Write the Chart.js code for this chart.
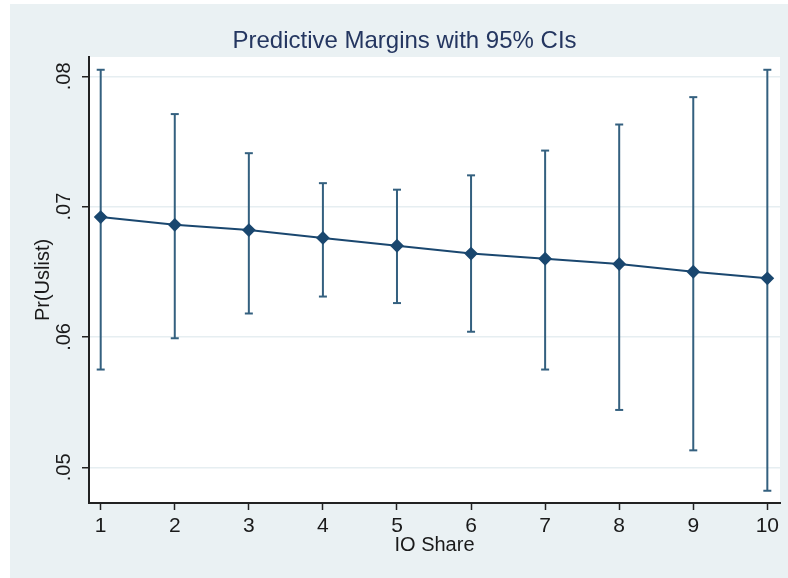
<!DOCTYPE html>
<html>
<head>
<meta charset="utf-8">
<script src="https://cdn.jsdelivr.net/npm/chart.js@4.4.0/dist/chart.umd.min.js"></script>
<style>
    body { margin: 0; background: #ffffff; }
    canvas { display: block; }
</style>
</head>
<body>
<canvas id="canvasMargins" width="788" height="578"></canvas>
<script>
var ioShare = [1, 2, 3, 4, 5, 6, 7, 8, 9, 10];
var margins = [0.0692, 0.0686, 0.0682, 0.0676, 0.0670, 0.0664, 0.0660, 0.0656, 0.0650, 0.0645];
var upperCI = [0.0805, 0.0771, 0.0741, 0.0718, 0.0713, 0.0724, 0.0743, 0.0763, 0.0784, 0.0805];
var lowerCI = [0.0575, 0.0599, 0.0618, 0.0631, 0.0626, 0.0604, 0.0575, 0.0544, 0.0513, 0.0482];
var yTicks = [0.05, 0.06, 0.07, 0.08];
var xTicks = [1, 2, 3, 4, 5, 6, 7, 8, 9, 10];

var navy = '#1a476f';
var spikeColor = '#34607f';
var fontName = '"Liberation Sans", Arial, sans-serif';

function buildPoints(values){
    var points = [];
    for(var i = 0; i < ioShare.length; i++){
        points.push({x: ioShare[i], y: values[i]});
    }
    return points;
}

function buildSpikes(){
    // one segment per x, split with null so the line breaks
    var points = [];
    for(var i = 0; i < ioShare.length; i++){
        points.push({x: ioShare[i], y: lowerCI[i]});
        points.push({x: ioShare[i], y: upperCI[i]});
        points.push({x: ioShare[i], y: null});
    }
    return points;
}

var backgroundPlugin = {
    id: 'stataBackground',
    beforeDraw: function(chart){
        var ctx = chart.ctx;
        var area = chart.chartArea;
        ctx.save();
        ctx.fillStyle = '#ffffff';
        ctx.fillRect(0, 0, chart.width, chart.height);
        ctx.fillStyle = '#eaf1f3';
        ctx.fillRect(10, 4, chart.width - 10, chart.height - 4);
        ctx.fillStyle = '#ffffff';
        ctx.fillRect(area.left, area.top, area.right - area.left, area.bottom - area.top);
        ctx.restore();
    }
};

var config = {
    type: 'line',
    data: {
        datasets: [
            {
                label: 'margins',
                data: buildPoints(margins),
                borderColor: navy,
                backgroundColor: navy,
                borderWidth: 2,
                pointStyle: 'rectRot',
                pointRadius: 5.5,
                tension: 0,
                order: 0
            },
            {
                label: 'ci',
                data: buildSpikes(),
                borderColor: spikeColor,
                borderWidth: 2,
                pointRadius: 0,
                spanGaps: false,
                order: 2
            },
            {
                label: 'caps',
                type: 'scatter',
                data: buildPoints(lowerCI).concat(buildPoints(upperCI)),
                borderColor: spikeColor,
                borderWidth: 2,
                pointStyle: 'line',
                pointRadius: 4,
                order: 1
            }
        ]
    },
    options: {
        responsive: false,
        animation: false,
        layout: {
            padding: {left: 29, right: 8, top: 0, bottom: 0}
        },
        plugins: {
            legend: {display: false},
            tooltip: {enabled: false},
            title: {
                display: true,
                text: 'Predictive Margins with 95% CIs',
                color: '#243660',
                font: {family: fontName, size: 24, weight: 'normal', lineHeight: 1.2},
                padding: {top: 26.6, bottom: 1.6}
            }
        },
        scales: {
            x: {
                type: 'linear',
                min: 0.842,
                max: 10.171,
                afterFit: function(scale){ scale.height = 75; },
                afterBuildTicks: function(scale){
                    scale.ticks = xTicks.map(function(v){ return {value: v}; });
                },
                grid: {
                    drawOnChartArea: false,
                    tickLength: 7,
                    tickColor: '#222222',
                    tickWidth: 1.5
                },
                border: {display: true, color: '#222222', width: 2},
                ticks: {
                    color: '#1a1a1a',
                    padding: 4,
                    font: {family: fontName, size: 21},
                    callback: function(value){ return String(value); }
                },
                title: {
                    display: true,
                    text: 'IO Share',
                    color: '#1a1a1a',
                    font: {family: fontName, size: 20},
                    padding: {top: 0, bottom: 21}
                }
            },
            y: {
                type: 'linear',
                min: 0.04726,
                max: 0.08148,
                afterFit: function(scale){ scale.width = 60; },
                afterBuildTicks: function(scale){
                    scale.ticks = yTicks.map(function(v){ return {value: v}; });
                },
                grid: {
                    color: '#e6eef1',
                    lineWidth: 1.5,
                    tickLength: 7,
                    tickColor: '#222222',
                    tickWidth: 1.5
                },
                border: {display: true, color: '#222222', width: 2},
                ticks: {
                    color: '#1a1a1a',
                    padding: 4,
                    minRotation: 90,
                    maxRotation: 90,
                    crossAlign: 'center',
                    font: {family: fontName, size: 20},
                    callback: function(value){ return value.toFixed(2).replace(/^0/, ''); }
                },
                title: {
                    display: true,
                    text: 'Pr(Uslist)',
                    color: '#1a1a1a',
                    font: {family: fontName, size: 20},
                    padding: {top: 2, bottom: 0}
                }
            }
        }
    },
    plugins: [backgroundPlugin]
};

var ctx = document.getElementById('canvasMargins').getContext('2d');
var chart = new Chart(ctx, config);
</script>
</body>
</html>
